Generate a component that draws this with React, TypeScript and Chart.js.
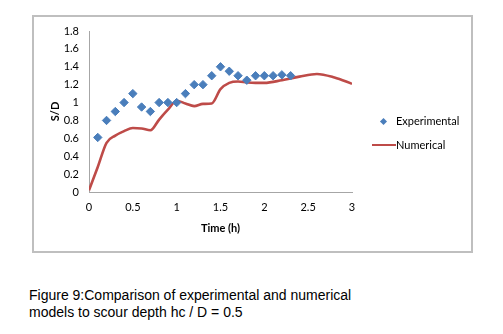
import React, { useEffect, useRef } from "react";
import { Chart, registerables } from "chart.js";

Chart.register(...registerables);

const expTime = [0.1, 0.2, 0.3, 0.4, 0.5, 0.6, 0.7, 0.8, 0.9, 1.0, 1.1, 1.2, 1.3, 1.4, 1.5, 1.6, 1.7, 1.8, 1.9, 2.0, 2.1, 2.2, 2.3];
const expSD = [0.61, 0.8, 0.9, 1.0, 1.1, 0.95, 0.9, 1.0, 1.0, 1.0, 1.1, 1.2, 1.2, 1.3, 1.4, 1.35, 1.3, 1.25, 1.3, 1.3, 1.3, 1.31, 1.3];

const numTime = [0, 0.1, 0.2, 0.3, 0.4, 0.5, 0.6, 0.7, 0.8, 0.9, 1.0, 1.1, 1.2, 1.3, 1.4, 1.5, 1.6, 1.7, 1.8, 1.9, 2.0, 2.2, 2.4, 2.6, 2.8, 3.0];
const numSD = [0.02, 0.28, 0.55, 0.63, 0.68, 0.715, 0.71, 0.69, 0.81, 0.92, 1.02, 0.99, 0.96, 0.985, 0.99, 1.15, 1.22, 1.235, 1.225, 1.22, 1.22, 1.25, 1.29, 1.32, 1.28, 1.21];

const seriesNames = ["Experimental", "Numerical"];
const xTitle = "Time (h)";
const yTitle = "S/D";
const captionLines = [
  "Figure 9:Comparison of experimental and numerical",
  "models to scour depth hc / D = 0.5",
];

const BLUE = "#4A7EBB";
const RED = "#BE4B48";
const AXIS = "#A6A6A6";
const FONT = "Lato";

export default function App() {
  const ref = useRef<HTMLCanvasElement>(null);

  useEffect(() => {
    document.body.style.margin = "0";
    const canvas = ref.current!;
    const chart = new Chart(canvas, {
      type: "scatter",
      data: {
        datasets: [
          {
            label: seriesNames[0],
            data: expTime.map((t, i) => ({ x: t, y: expSD[i] })),
            pointStyle: "rectRot",
            pointRadius: 4.2,
            pointBackgroundColor: BLUE,
            pointBorderColor: BLUE,
            pointBorderWidth: 1,
            showLine: false,
          },
          {
            label: seriesNames[1],
            data: numTime.map((t, i) => ({ x: t, y: numSD[i] })),
            showLine: true,
            pointRadius: 0,
            borderColor: RED,
            borderWidth: 2.6,
            cubicInterpolationMode: "monotone",
            fill: false,
          },
        ],
      },
      options: {
        animation: false,
        responsive: false,
        maintainAspectRatio: false,
        layout: { padding: { left: 48.4, top: 31, right: 48, bottom: 25.4 } },
        plugins: { legend: { display: false }, tooltip: { enabled: false } },
        scales: {
          x: {
            type: "linear",
            min: 0,
            max: 3,
            ticks: {
              stepSize: 0.5,
              padding: 9,
              color: "#000",
              font: { family: FONT, size: 11 },
              callback: (v: any) => String(Math.round(Number(v) * 10) / 10),
            },
            grid: { display: false, drawTicks: false },
            border: { display: true, color: AXIS, width: 1 },
            title: {
              display: true,
              text: xTitle,
              color: "#000",
              font: { family: FONT, size: 11, weight: "bold" },
              padding: 0,
            },
            afterFit: (s: any) => {
              s.height = 42.6;
            },
          },
          y: {
            type: "linear",
            min: 0,
            max: 1.8,
            ticks: {
              stepSize: 0.2,
              padding: 10,
              color: "#000",
              font: { family: FONT, size: 11 },
              callback: (v: any) => String(Math.round(Number(v) * 10) / 10),
            },
            grid: { display: false, drawTicks: false },
            border: { display: true, color: AXIS, width: 1 },
            title: {
              display: true,
              text: yTitle,
              color: "#000",
              font: { family: FONT, size: 11, weight: "bold" },
              padding: 0,
            },
            afterFit: (s: any) => {
              s.width = 40.6;
            },
          },
        },
      },
    });
    return () => chart.destroy();
  }, []);

  return (
    <div style={{ position: "absolute", left: 0, top: 0, width: 503, height: 334, background: "#fff", overflow: "hidden" }}>
      <div
        style={{
          position: "absolute",
          left: 32,
          top: 15,
          width: 437,
          height: 234,
          border: "2px solid #BFBFBF",
        }}
      />
      <canvas ref={ref} width={400} height={260} style={{ position: "absolute", left: 0, top: 0, width: 400, height: 260 }} />
      <div style={{ position: "absolute", left: 370, top: 114, fontFamily: FONT, fontSize: 11, color: "#000", lineHeight: "14px" }}>
        <div style={{ display: "flex", alignItems: "center", height: 14 }}>
          <div style={{ width: 26, display: "flex", justifyContent: "center" }}>
            <div style={{ width: 5, height: 5, background: BLUE, transform: "rotate(45deg)" }} />
          </div>
          <span>{seriesNames[0]}</span>
        </div>
        <div style={{ display: "flex", alignItems: "center", height: 14, marginTop: 10 }}>
          <div style={{ width: 26, display: "flex", alignItems: "center" }}>
            <div style={{ marginLeft: 2, width: 24, height: 2.5, background: RED }} />
          </div>
          <span>{seriesNames[1]}</span>
        </div>
      </div>
      <div
        style={{
          position: "absolute",
          left: 29,
          top: 287,
          fontFamily: "'Liberation Sans', Arial, sans-serif",
          fontSize: 14,
          lineHeight: "17px",
          color: "#000",
          whiteSpace: "nowrap",
        }}
      >
        {captionLines.map((l, i) => (
          <div key={i}>{l}</div>
        ))}
      </div>
    </div>
  );
}
